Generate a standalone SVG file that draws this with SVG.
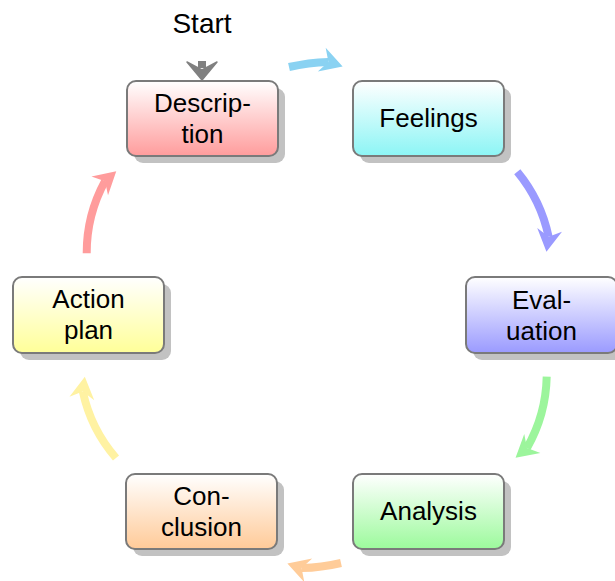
<svg xmlns="http://www.w3.org/2000/svg" xmlns:xlink="http://www.w3.org/1999/xlink" width="615" height="581" viewBox="0 0 615 581">
<style>
.box{stroke:#7a7a7a;stroke-width:2}
.shadow{fill:#c2c2c2}
.lbl{font-family:"Liberation Sans",Arial,sans-serif;font-size:26px;fill:#000;text-anchor:middle}
.arc{fill:none;stroke-width:8;stroke-linecap:butt}
</style>
<defs>
<linearGradient id="gRed" x1="0" y1="0" x2="0" y2="1"><stop offset="0" stop-color="#ffffff"/><stop offset="1" stop-color="#ff9c9c"/></linearGradient>
<linearGradient id="gCyan" x1="0" y1="0" x2="0" y2="1"><stop offset="0" stop-color="#ffffff"/><stop offset="1" stop-color="#8cf5f5"/></linearGradient>
<linearGradient id="gBlue" x1="0" y1="0" x2="0" y2="1"><stop offset="0" stop-color="#ffffff"/><stop offset="1" stop-color="#9a9aff"/></linearGradient>
<linearGradient id="gGreen" x1="0" y1="0" x2="0" y2="1"><stop offset="0" stop-color="#ffffff"/><stop offset="1" stop-color="#9cfa9c"/></linearGradient>
<linearGradient id="gOrange" x1="0" y1="0" x2="0" y2="1"><stop offset="0" stop-color="#ffffff"/><stop offset="1" stop-color="#ffca98"/></linearGradient>
<linearGradient id="gYellow" x1="0" y1="0" x2="0" y2="1"><stop offset="0" stop-color="#ffffff"/><stop offset="1" stop-color="#ffff98"/></linearGradient>
<path id="hd" d="M15,0 L-7,-12.5 L0,0 L-7,12.5 Z" transform="rotate(20)"/>
<marker id="mSky" markerUnits="userSpaceOnUse" orient="auto" refX="0" refY="0" markerWidth="40" markerHeight="40" overflow="visible"><use xlink:href="#hd" fill="#8ad2f2"/></marker>
<marker id="mPurple" markerUnits="userSpaceOnUse" orient="auto" refX="0" refY="0" markerWidth="40" markerHeight="40" overflow="visible"><use xlink:href="#hd" fill="#9a9aff"/></marker>
<marker id="mGreen" markerUnits="userSpaceOnUse" orient="auto" refX="0" refY="0" markerWidth="40" markerHeight="40" overflow="visible"><use xlink:href="#hd" fill="#9cf59c"/></marker>
<marker id="mOrange" markerUnits="userSpaceOnUse" orient="auto" refX="0" refY="0" markerWidth="40" markerHeight="40" overflow="visible"><use xlink:href="#hd" fill="#ffcc99"/></marker>
<marker id="mYellow" markerUnits="userSpaceOnUse" orient="auto" refX="0" refY="0" markerWidth="40" markerHeight="40" overflow="visible"><use xlink:href="#hd" fill="#fff2a2"/></marker>
<marker id="mRed" markerUnits="userSpaceOnUse" orient="auto" refX="0" refY="0" markerWidth="40" markerHeight="40" overflow="visible"><use xlink:href="#hd" fill="#ff9c9c"/></marker>
</defs>

<g id="connectors">
<path class="arc" stroke="#8ad2f2" marker-end="url(#mSky)" d="M289,67 A200,200 0 0 1 328.4,61.9"/>
<path class="arc" stroke="#9a9aff" marker-end="url(#mPurple)" d="M517.3,171.7 A150,150 0 0 1 548.6,236.8"/>
<path class="arc" stroke="#9cf59c" marker-end="url(#mGreen)" d="M546.7,376.7 A150,150 0 0 1 527,448"/>
<path class="arc" stroke="#ffcc99" marker-end="url(#mOrange)" d="M341,563 A200,200 0 0 1 301.6,568.1"/>
<path class="arc" stroke="#fff2a2" marker-end="url(#mYellow)" d="M116,458 A150,150 0 0 1 82.8,391.5"/>
<path class="arc" stroke="#ff9c9c" marker-end="url(#mRed)" d="M86.7,253.3 A150,150 0 0 1 105,181.2"/>
</g>

<g id="start">
<text class="lbl" x="202" y="33" style="font-size:28px">Start</text>
<rect x="198" y="61" width="8" height="7" fill="#808080"/>
<path d="M187,62 L202,70 L217,62 L202,80 Z" fill="#808080" stroke="#808080" stroke-width="1.5" stroke-linejoin="round"/>
</g>

<g id="description">
<rect class="shadow" x="134" y="88" width="151" height="75" rx="9"/>
<rect class="box" x="127" y="81" width="151" height="75" rx="9" fill="url(#gRed)"/>
<text class="lbl" x="202.5" y="112">Descrip-</text>
<text class="lbl" x="202.5" y="143">tion</text>
</g>

<g id="feelings">
<rect class="shadow" x="360" y="88" width="151" height="75" rx="9"/>
<rect class="box" x="353" y="81" width="151" height="75" rx="9" fill="url(#gCyan)"/>
<text class="lbl" x="428.5" y="127">Feelings</text>
</g>

<g id="evaluation">
<rect class="shadow" x="473" y="284" width="151" height="76" rx="9"/>
<rect class="box" x="466" y="277" width="151" height="76" rx="9" fill="url(#gBlue)"/>
<text class="lbl" x="541.5" y="309">Eval-</text>
<text class="lbl" x="541.5" y="340">uation</text>
</g>

<g id="analysis">
<rect class="shadow" x="360" y="481" width="151" height="75" rx="9"/>
<rect class="box" x="353" y="474" width="151" height="75" rx="9" fill="url(#gGreen)"/>
<text class="lbl" x="428.5" y="520">Analysis</text>
</g>

<g id="conclusion">
<rect class="shadow" x="133" y="481" width="151" height="75" rx="9"/>
<rect class="box" x="126" y="474" width="151" height="75" rx="9" fill="url(#gOrange)"/>
<text class="lbl" x="201.5" y="505">Con-</text>
<text class="lbl" x="201.5" y="536">clusion</text>
</g>

<g id="action-plan">
<rect class="shadow" x="20" y="284" width="151" height="76" rx="9"/>
<rect class="box" x="13" y="277" width="151" height="76" rx="9" fill="url(#gYellow)"/>
<text class="lbl" x="88.5" y="308">Action</text>
<text class="lbl" x="88.5" y="339">plan</text>
</g>
</svg>
